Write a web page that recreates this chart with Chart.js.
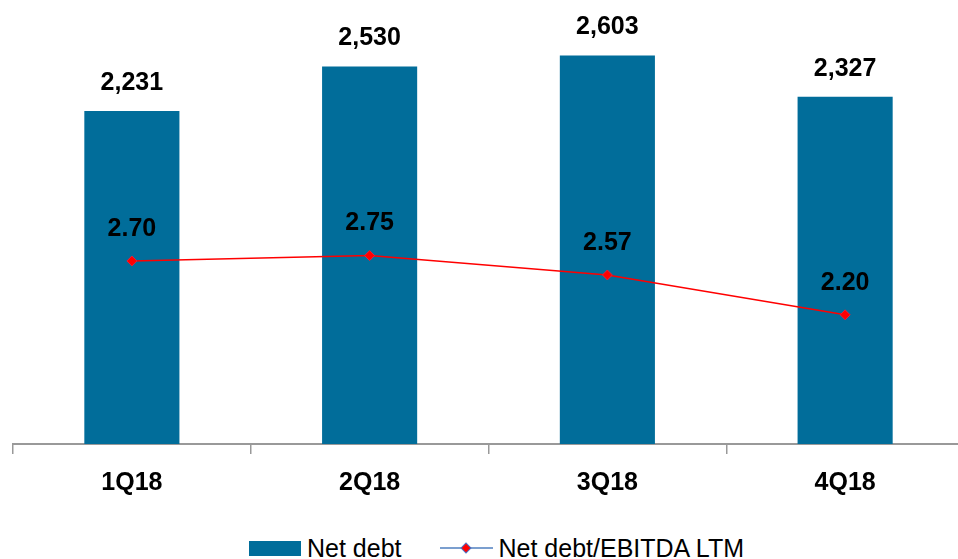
<!DOCTYPE html>
<html>
<head>
<meta charset="utf-8">
<script src="https://cdn.jsdelivr.net/npm/chart.js@4.4.1/dist/chart.umd.min.js"></script>
<style>
  html, body { margin: 0; padding: 0; background: #fff; overflow: hidden; }
  body { width: 958px; height: 559px; position: relative; font-family: 'Liberation Sans', Arial, sans-serif; }
  #wrap { position: absolute; left: 0; top: 0; width: 966px; height: 512px; }
  #legend { position: absolute; left: 249px; top: 534px; display: flex; align-items: center; font-size: 25px; color: #000; line-height: 28px; }
  .item { display: flex; align-items: center; }
  .swatch { width: 52px; height: 15px; background: #016d9a; margin-right: 6px; }
</style>
</head>
<body>
<div id="wrap"><canvas id="chart"></canvas></div>
<div id="legend">
  <div class="item"><span class="swatch"></span><span>Net debt</span></div>
  <div class="item" style="margin-left:38px">
    <svg width="53" height="16" style="margin-right:6px">
      <line x1="0" y1="8" x2="53" y2="8" stroke="#7b9fcf" stroke-width="2"/>
      <rect x="22.5" y="4.5" width="7" height="7" fill="#ff0000" stroke="#4f6fc0" stroke-width="1" transform="rotate(45 26 8)"/>
    </svg>
    <span>Net debt/EBITDA LTM</span>
  </div>
</div>
<script>
// Net debt chart — bars + ratio line

const quarters = ['1Q18', '2Q18', '3Q18', '4Q18'];
const netDebt = [2231, 2530, 2603, 2327];
const debtRatio = [2.70, 2.75, 2.57, 2.20];

const FONT = "'Liberation Sans', Arial, sans-serif";

// value labels above bars and points
const valueLabels = {
  id: 'valueLabels',
  afterDatasetsDraw(chart) {
    const ctx = chart.ctx;
    ctx.save();
    ctx.font = 'bold 25px ' + FONT;
    ctx.fillStyle = '#000';
    ctx.textAlign = 'center';
    ctx.textBaseline = 'middle';
    chart.data.datasets.forEach((ds, i) => {
      const meta = chart.getDatasetMeta(i);
      meta.data.forEach((el, j) => {
        const v = ds.data[j];
        const txt = ds.type === 'line' ? v.toFixed(2) : v.toLocaleString('en-US');
        const off = ds.type === 'line' ? 32 : 28;
        ctx.fillText(txt, el.x, el.y - off);
      });
    });
    ctx.restore();
  }
};

new Chart(document.getElementById('chart'), {
  data: {
    labels: quarters,
    datasets: [
      {
        type: 'line', label: 'Net debt/EBITDA LTM', data: debtRatio, yAxisID: 'y1', order: 0,
        borderColor: '#ff0000', borderWidth: 1.5, tension: 0,
        pointStyle: 'rectRot', pointRadius: 5, pointBackgroundColor: '#ff0000',
        pointBorderColor: '#e8203a', pointBorderWidth: 1
      },
      {
        type: 'bar', label: 'Net debt', data: netDebt, yAxisID: 'y', order: 1,
        backgroundColor: '#016d9a', categoryPercentage: 1, barPercentage: 0.4
      }
    ]
  },
  options: {
    responsive: true,
    maintainAspectRatio: false,
    animation: false,
    layout: { autoPadding: false, padding: { left: 13, right: 2, top: 0, bottom: 0 } },
    plugins: { legend: { display: false }, tooltip: { enabled: false } },
    scales: {
      x: {
        offset: true,
        grid: { offset: true, drawOnChartArea: false, drawTicks: true, tickLength: 10, color: '#999', lineWidth: 1.5 },
        border: { color: '#999', width: 2 },
        ticks: { padding: 14, color: '#000', font: { family: FONT, size: 25, weight: 'bold' } }
      },
      y: { display: false, min: 0, max: 2975 },
      y1: { display: false, min: 1.0, max: 5.124 }
    }
  },
  plugins: [valueLabels]
});
</script>
</body>
</html>
